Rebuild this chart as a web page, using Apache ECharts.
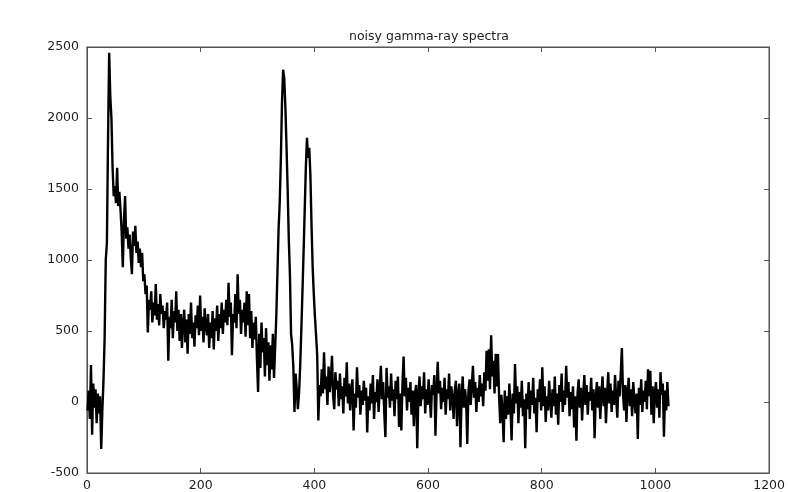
<!DOCTYPE html>
<html>
<head>
<meta charset="utf-8">
<title>noisy gamma-ray spectra</title>
<script src="https://cdn.jsdelivr.net/npm/echarts@6/dist/echarts.min.js"></script>
<style>
  html, body { margin: 0; padding: 0; background: #ffffff; }
  #chart { width: 788px; height: 492px; }
</style>
</head>
<body>
<div id="chart"></div>
<script>
// Counts per channel pair (channels 1, 3, 5, ... 1023), in spectrum order.
const segStart   = [-60, 80, -120, 260, -230, 130, -40, 90, -150, 60, -80, 40, -330, -60];
const segPeak1   = [150, 450, 1000, 1120, 1850, 2460, 2150, 2000, 1650, 1450];
const segDecay   = [1520, 1400, 1650, 1380, 1480, 1350, 1200, 950, 1280, 1450,
                    1150, 1230, 1080, 1180, 1020, 900, 1200, 1100, 1240, 1050,
                    1130, 980, 1080, 950, 1050, 850];
const segShelf   = [900, 760, 820, 490, 720, 650, 780, 560, 700, 610,
                    830, 580, 690, 540, 760, 620, 680, 520, 640, 580,
                    700, 290, 600, 520, 720, 450, 640, 560, 780, 500,
                    650, 430, 620, 380, 560];
const segPlateau = [650, 420, 580, 340, 620, 480, 700, 450, 560, 390,
                    610, 520, 680, 470, 750, 500, 600, 420, 660, 540,
                    470, 620, 380, 560, 450, 640, 370, 590, 500, 680,
                    430, 620, 520, 700, 480, 650, 560, 720];
const segHump    = [540, 840, 600, 700, 330, 620, 560, 760, 520, 900,
                    620, 720, 480, 650, 560, 700, 460, 780, 540, 760,
                    450, 640, 380, 560, 440];
const segValley  = [600, 300, 70, 480, 240, 560, 350, 450, 180, 520,
                    260, 420, 150, 400, 230, 480, 170, 380, 600];
const segPeak2   = [900, 1215, 1400, 1700, 2100, 2340, 2280, 2080, 1800, 1500,
                    1150, 900, 480, 400, 250];
const segDip     = [-70, 200, 90, -50, 60];
const segPeak3   = [250, 500, 770, 1050, 1350, 1650, 1860, 1720, 1790, 1600,
                    1250, 950, 760, 600, 470, 330];
const segTailA   = [-130, 120, 40, 230, 60, 350, 90, 180, -20, 250,
                    70, 160, 325, 40, -50, 210, 90, 150, -30, 200,
                    20, 110, -80, 170, 40, 280, -10, 130, -60, 90,
                    160, -200, 60, -40, 245, 30, 120, -90, 80, -20,
                    150, 10, 100, -215, 40, -60, 130, -10, 190, -120,
                    70, 0, 160, -70, 90, 255, 20, 140, -80, -247,
                    240, 30, 110, -40, 200, 10, 90, -100, 150, 20,
                    180, -175, 60, -200, 130, 320, 40, 170, -60, 100,
                    0, 140, -90, 80, -170, 60, 120, -325, 50, 180,
                    -30, 110, 20, 210, -80, 90, -20, 160, 30, -110];
const segTailB   = [120, 50, 190, -237, 70, 283, 60, 150, -50, 100,
                    0, 170, -90, 90, 20, 200, -60, 110, 30, -120,
                    80, 150, -170, 60, 130, -318, 40, 180, -40, 90,
                    10, -295, 70, 160, -20, 120, 255, 30, 140, -70,
                    100, 0, 190, 40, 130, -30, 210, 80, 360, 150,
                    372, 90, 470, 180, 290, 60, 340, 110, 337, 40,
                    -150, 50, -60, -283, 80, -120, 40, -90, 130, -30,
                    -270, 60, -80, 267, -10, 110, -150, 70, -40, 150,
                    -100, 20, -325, 60, -50, 140, -120, 80, -20, 170,
                    -80, 30, -213, 90, 0, 160, -60, 245, -30, 110];
const segTailC   = [-140, 40, -60, 150, 10, -110, 90, -30, 180, -90,
                    60, -160, 120, 0, 200, -70, 80, -20, 255, 30,
                    140, -100, 70, -50, 110, -180, 40, -273, 60, 160,
                    -40, 100, -130, 50, 190, -20, 120, -90, 70, 10,
                    170, -60, 90, -255, 30, 140, -40, 110, -120, 60,
                    180, -30, 100, -150, 50, 210, -10, 130, -70, 80,
                    -20, 190, 20, -110, 150, 40, 200, 380, 60, -60,
                    120, -140, 70, 170, -30, 90, -100, 140, 10, -80,
                    60, -260, 100, -20, 160, -70, 80, 0, 150, -50,
                    230, 40, 220, -90, 110, -150, 70, 140, -40, 90,
                    -110, 210, 50, 130, -245, 80, -60, 140, -30];

const xTicks = { min: 0, max: 1200, step: 200 };
const yTicks = { min: -500, max: 2500, step: 500 };

const counts = [].concat(segStart, segPeak1, segDecay, segShelf, segPlateau,
  segHump, segValley, segPeak2, segDip, segPeak3, segTailA, segTailB, segTailC);
// channel numbers follow the odd-channel sampling of the arrays above
const spectrum = counts.map((c, i) => [2 * i + 1, c]);

// closed outline along the axis limits (box around the plot area)
const frame = [
  [xTicks.min, yTicks.min], [xTicks.max, yTicks.min],
  [xTicks.max, yTicks.max], [xTicks.min, yTicks.max], [xTicks.min, yTicks.min]
];

const axisColor = '#555555';
const labelStyle = {
  color: '#1e1e1e', fontFamily: 'DejaVu Sans', fontSize: 12.5,
  formatter: v => String(v)
};

function axisDef(ticks, position, showLabels, margin) {
  return {
    type: 'value', position: position, show: true,
    min: ticks.min, max: ticks.max, interval: ticks.step,
    axisLine: { show: true, onZero: false, lineStyle: { color: axisColor, width: 1 } },
    axisTick: { show: true, inside: true, length: 5, lineStyle: { color: axisColor, width: 1 } },
    axisLabel: Object.assign({ show: showLabels, margin: margin }, labelStyle),
    splitLine: { show: false }
  };
}

const chart = echarts.init(document.getElementById('chart'));
chart.setOption({
  animation: false,
  backgroundColor: '#ffffff',
  title: {
    text: 'noisy gamma-ray spectra',
    left: 429, top: 30, padding: 0,
    textAlign: 'center',
    textStyle: { fontFamily: 'DejaVu Sans', fontSize: 12.5, fontWeight: 'normal', color: '#1e1e1e' }
  },
  grid: { left: 87, right: 17, top: 47, bottom: 17 },
  xAxis: [axisDef(xTicks, 'bottom', true, 6), axisDef(xTicks, 'top', false, 6)],
  yAxis: [axisDef(yTicks, 'left', true, 8), axisDef(yTicks, 'right', false, 8)],
  series: [{
    type: 'line',
    xAxisIndex: 0, yAxisIndex: 0,
    data: spectrum,
    showSymbol: false,
    lineStyle: { color: '#000000', width: 2.4 }
  }, {
    // plot-area box, drawn on the mirrored top/right axes
    type: 'line',
    xAxisIndex: 1, yAxisIndex: 1,
    data: frame,
    showSymbol: false,
    clip: false,
    silent: true,
    z: 1,
    lineStyle: { color: axisColor, width: 1.2 }
  }]
});
</script>
</body>
</html>
